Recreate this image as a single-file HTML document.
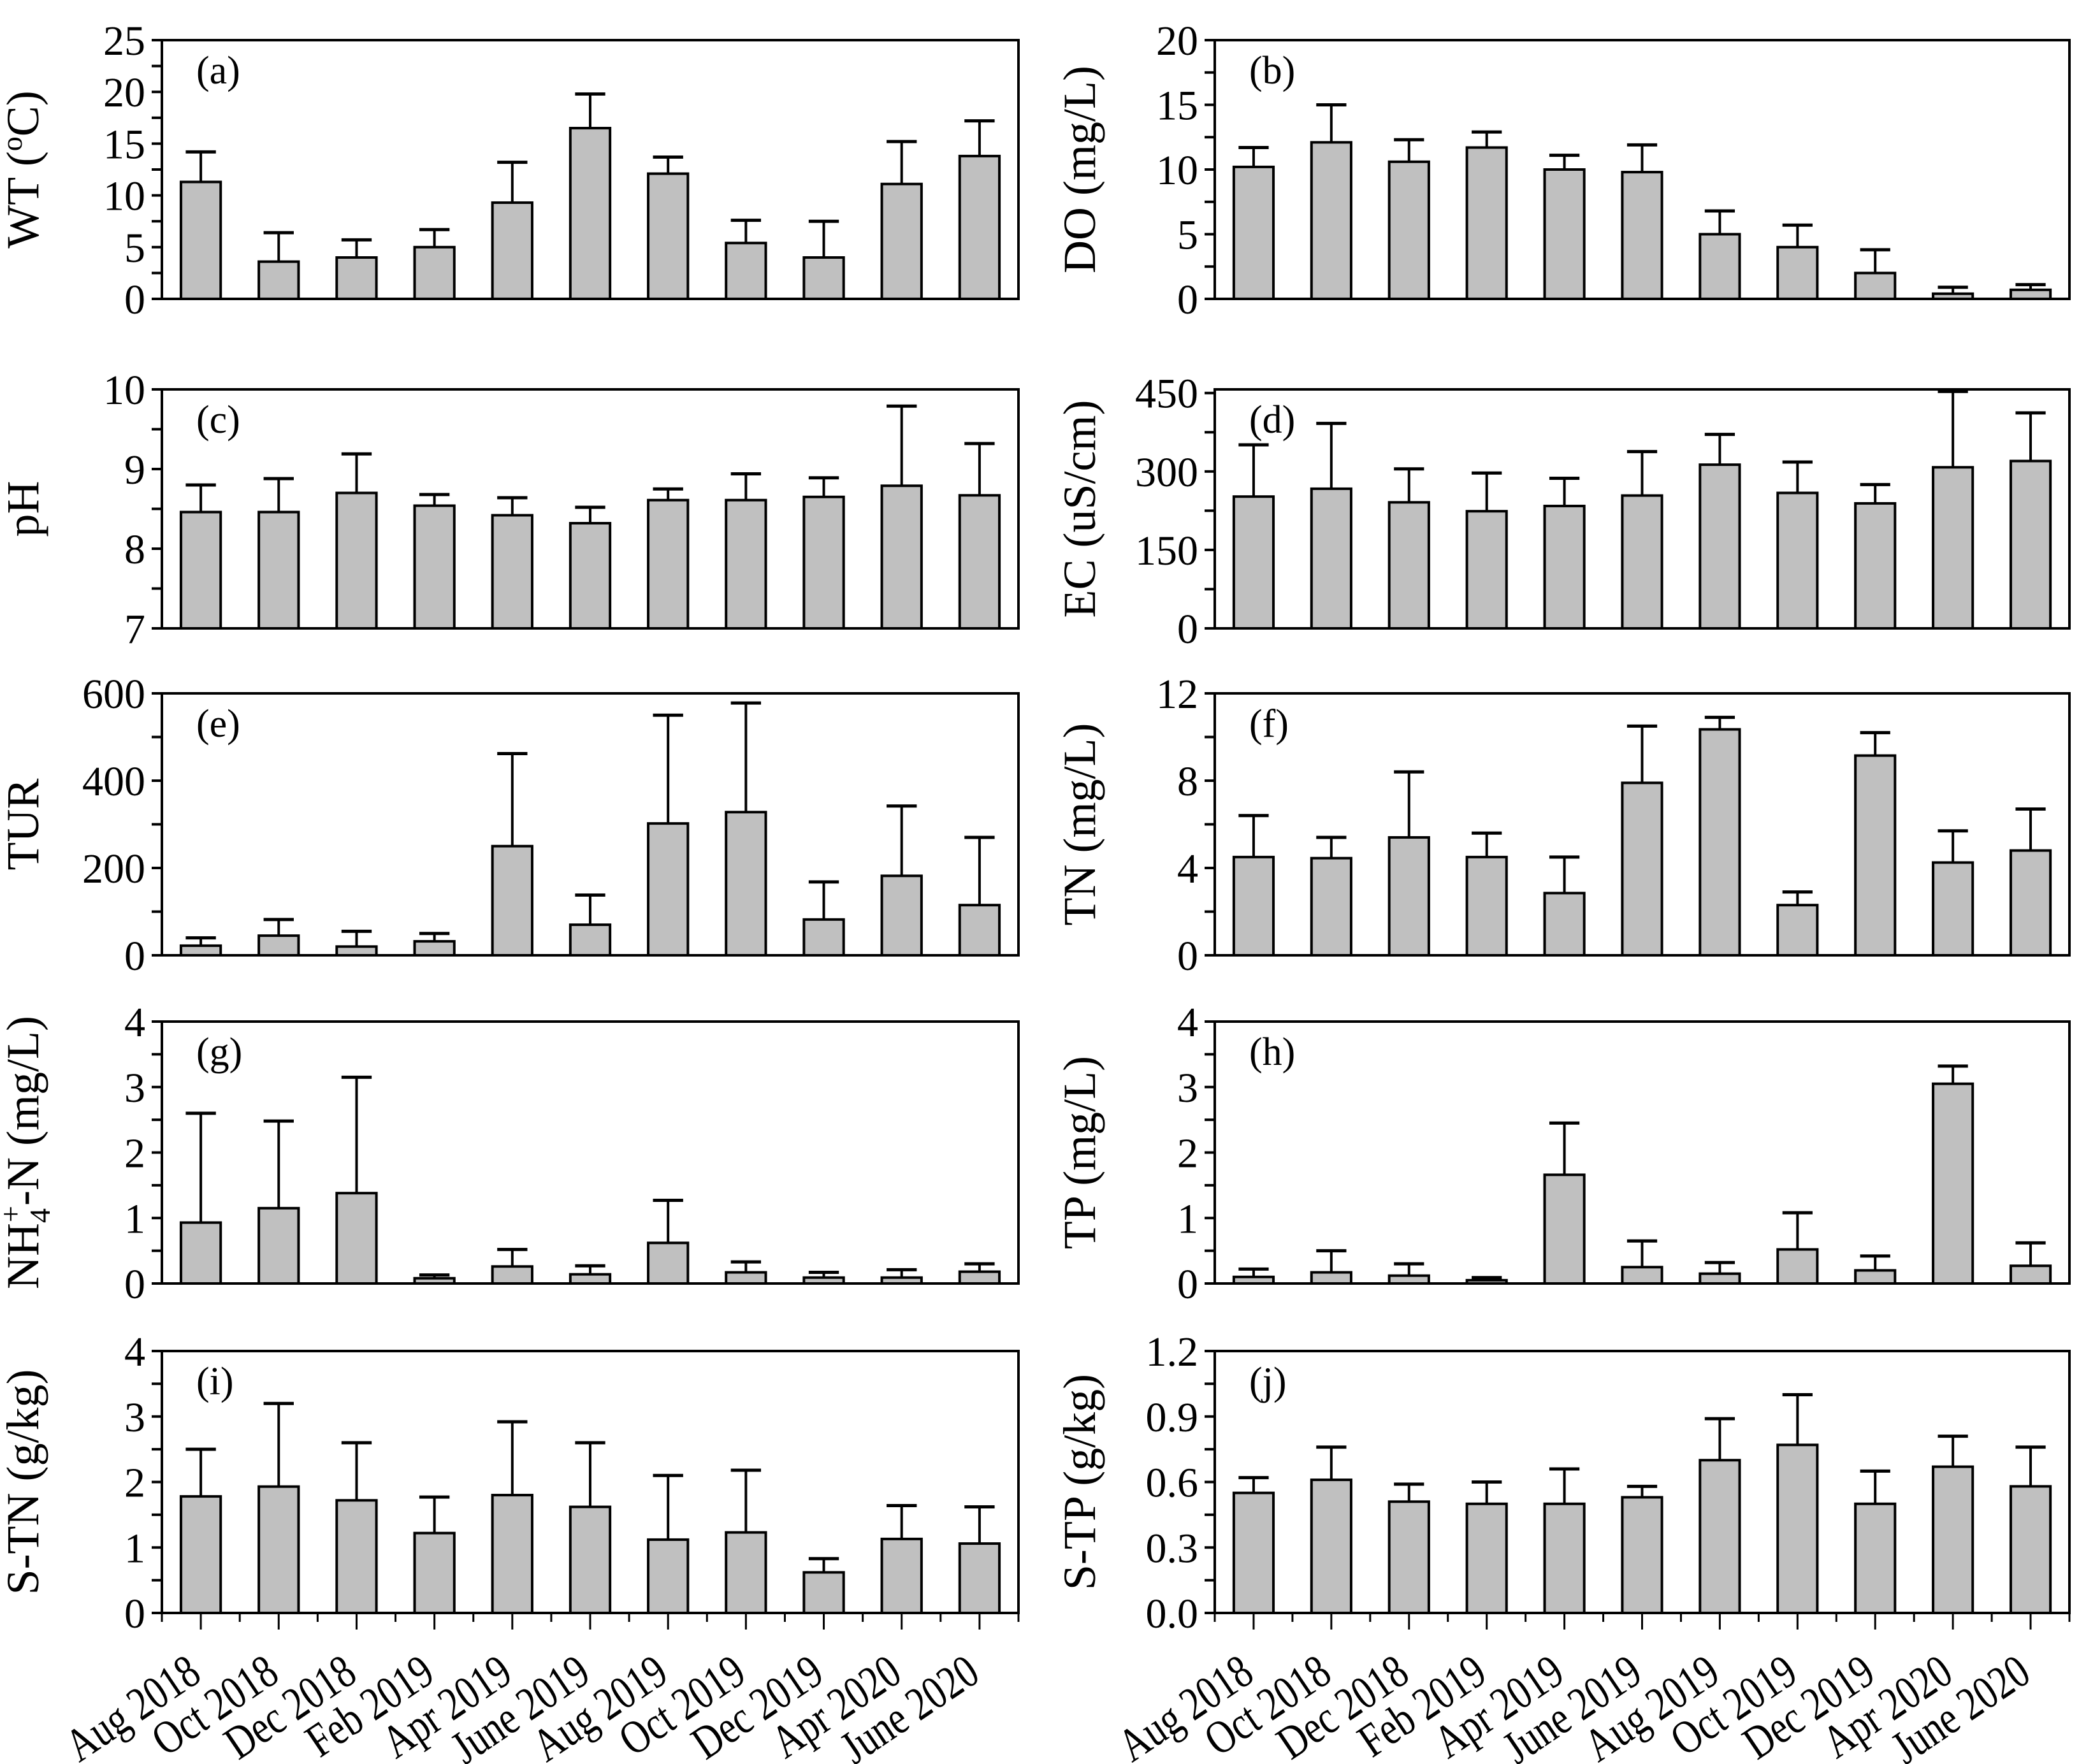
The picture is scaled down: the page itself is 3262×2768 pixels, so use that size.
<!DOCTYPE html>
<html><head><meta charset="utf-8"><style>
html,body{margin:0;padding:0;background:#fff}
svg{display:block}
text{font-family:"Liberation Serif",serif;fill:#000}
</style></head><body>
<svg id="chart" width="3262" height="2768" viewBox="0 0 3262 2768" xmlns="http://www.w3.org/2000/svg"></svg>
<script>
const categories = ["Aug 2018","Oct 2018","Dec 2018","Feb 2019","Apr 2019","June 2019","Aug 2019","Oct 2019","Dec 2019","Apr 2020","June 2020"];
const wtMean = [11.3,3.6,4.0,5.0,9.3,16.5,12.1,5.4,4.0,11.1,13.8];
const wtUpper = [14.2,6.4,5.7,6.7,13.2,19.8,13.7,7.6,7.5,15.2,17.2];
const doMean = [10.2,12.1,10.6,11.7,10.0,9.8,5.0,4.0,2.0,0.4,0.7];
const doUpper = [11.7,15.0,12.3,12.9,11.1,11.9,6.8,5.7,3.8,0.9,1.1];
const phMean = [8.46,8.46,8.7,8.54,8.42,8.32,8.61,8.61,8.65,8.79,8.67];
const phUpper = [8.8,8.88,9.19,8.68,8.64,8.52,8.75,8.94,8.89,9.79,9.32];
const ecMean = [252,267,241,224,234,254,313,259,239,308,320];
const ecUpper = [351,392,305,297,287,338,371,318,275,453,412];
const turMean = [22,45,20,32,250,70,302,328,82,182,115];
const turUpper = [40,82,55,50,462,138,550,578,168,342,270];
const tnMean = [4.5,4.45,5.4,4.5,2.85,7.9,10.35,2.3,9.15,4.25,4.8];
const tnUpper = [6.4,5.4,8.4,5.6,4.5,10.5,10.9,2.9,10.2,5.7,6.7];
const nhMean = [0.93,1.15,1.38,0.08,0.26,0.14,0.62,0.17,0.09,0.09,0.18];
const nhUpper = [2.6,2.48,3.15,0.13,0.52,0.27,1.27,0.33,0.17,0.21,0.3];
const tpMean = [0.1,0.17,0.12,0.05,1.66,0.25,0.15,0.52,0.2,3.05,0.27];
const tpUpper = [0.22,0.5,0.3,0.09,2.45,0.65,0.32,1.08,0.42,3.32,0.62];
const stnMean = [1.78,1.93,1.72,1.22,1.8,1.62,1.12,1.23,0.62,1.13,1.06];
const stnUpper = [2.5,3.2,2.6,1.77,2.92,2.6,2.1,2.18,0.83,1.64,1.62];
const stpMean = [0.55,0.61,0.51,0.5,0.5,0.53,0.7,0.77,0.5,0.67,0.58];
const stpUpper = [0.62,0.76,0.59,0.6,0.66,0.58,0.89,1.0,0.65,0.81,0.76];
const wtTicks = ["0","5","10","15","20","25"];
const doTicks = ["0","5","10","15","20"];
const phTicks = ["7","8","9","10"];
const ecTicks = ["0","150","300","450"];
const turTicks = ["0","200","400","600"];
const tnTicks = ["0","4","8","12"];
const nhTicks = ["0","1","2","3","4"];
const tpTicks = ["0","1","2","3","4"];
const stnTicks = ["0","1","2","3","4"];
const stpTicks = ["0.0","0.3","0.6","0.9","1.2"];

const NS="http://www.w3.org/2000/svg";
const svg=document.getElementById('chart');
function mk(tag,attrs,parent){const e=document.createElementNS(NS,tag);for(const k in attrs)e.setAttribute(k,attrs[k]);(parent||svg).appendChild(e);return e;}

const LX=[254,1598], RX=[1906,3247];
const rows=[[63,469],[611,986],[1088,1499],[1603,2014],[2120,2531]];
const panels=[
 {id:'a',col:LX,row:0,mean:wtMean,up:wtUpper,ticks:wtTicks,min:0,max:25,minor:2.5,title:'wt'},
 {id:'b',col:RX,row:0,mean:doMean,up:doUpper,ticks:doTicks,min:0,max:20,minor:2.5,title:'DO (mg/L)'},
 {id:'c',col:LX,row:1,mean:phMean,up:phUpper,ticks:phTicks,min:7,max:10,minor:0.5,title:'pH'},
 {id:'d',col:RX,row:1,mean:ecMean,up:ecUpper,ticks:ecTicks,min:0,max:457,minor:75,title:'EC (uS/cm)'},
 {id:'e',col:LX,row:2,mean:turMean,up:turUpper,ticks:turTicks,min:0,max:600,minor:100,title:'TUR'},
 {id:'f',col:RX,row:2,mean:tnMean,up:tnUpper,ticks:tnTicks,min:0,max:12,minor:2,title:'TN (mg/L)'},
 {id:'g',col:LX,row:3,mean:nhMean,up:nhUpper,ticks:nhTicks,min:0,max:4,minor:0.5,title:'nh'},
 {id:'h',col:RX,row:3,mean:tpMean,up:tpUpper,ticks:tpTicks,min:0,max:4,minor:0.5,title:'TP (mg/L)'},
 {id:'i',col:LX,row:4,mean:stnMean,up:stnUpper,ticks:stnTicks,min:0,max:4,minor:0.5,title:'S-TN (g/kg)'},
 {id:'j',col:RX,row:4,mean:stpMean,up:stpUpper,ticks:stpTicks,min:0,max:1.2,minor:0.15,title:'S-TP (g/kg)'}
];

panels.forEach(p=>{
  const [x0,x1]=p.col,[y0,y1]=rows[p.row];
  const g=mk('g',{});
  
  
  const ys=v=>y1-(v-p.min)/(p.max-p.min)*(y1-y0);
  const slot=(x1-x0)/categories.length;
  const xc=i=>x0+(i+0.5)*slot;
  for(let v=p.min;v<=p.max+1e-9;v+=p.minor){
    const y=ys(v);
    const t=mk('line',{x1:x0-16,x2:x0,y1:y,y2:y,stroke:'#000','stroke-width':4},g);
    
    
  }
  p.ticks.forEach(s=>{
    const v=parseFloat(s);
    const t=mk('text',{x:x0-26,y:ys(v)+23,'text-anchor':'end','font-size':66},g);
    t.textContent=s;
    
    
  });
  p.mean.forEach((m,i)=>{
    const bw=slot*0.51, cx=xc(i);
    const e=mk('line',{x1:cx,x2:cx,y1:ys(p.up[i]),y2:ys(m),stroke:'#000','stroke-width':4},g);
    
    
    const c=mk('line',{x1:cx-bw*0.38,x2:cx+bw*0.38,y1:ys(p.up[i]),y2:ys(p.up[i]),stroke:'#000','stroke-width':5},g);
    
    
    const r=mk('rect',{x:cx-bw/2,y:ys(m),width:bw,height:y1-ys(m),fill:'#c0c0c0',stroke:'#000','stroke-width':4},g);
    
    
  });
  const f=mk('rect',{x:x0,y:y0,width:x1-x0,height:y1-y0,fill:'none',stroke:'#000','stroke-width':4},g);
  
  
  const pl=mk('text',{x:x0+54,y:y0+68,'font-size':62},g);
  pl.textContent='('+p.id+')';
  
  
  const tx=p.col===LX?60:1718, ty=(y0+y1)/2;
  const t=mk('text',{x:tx,y:ty,'font-size':72,'text-anchor':'middle',transform:`rotate(-90 ${tx} ${ty})`},g);
  
  
  if(p.title==='wt'){
    t.innerHTML='WT (<tspan dy="-26" font-size="46">o</tspan><tspan dy="26">C)</tspan>';
  } else if(p.title==='nh'){
    t.innerHTML='NH<tspan dy="18" font-size="46">4</tspan><tspan dy="-46" dx="-22" font-size="46">+</tspan><tspan dy="28">-N (mg/L)</tspan>';
  } else t.textContent=p.title;
  if(p.row===4){
    for(let k=0;k<=categories.length;k++){
      const x=x0+k*slot;
      const m=mk('line',{x1:x,x2:x,y1:y1,y2:y1+14,stroke:'#000','stroke-width':3},g);
      
      
    }
    categories.forEach((c,i)=>{
      const x=xc(i);
      const m=mk('line',{x1:x,x2:x,y1:y1,y2:y1+26,stroke:'#000','stroke-width':3},g);
      
      
      const ax=x+4, ay=y1+104;
      const l=mk('text',{x:0,y:0,'font-size':74,'text-anchor':'end',transform:`translate(${ax} ${ay}) rotate(-34) scale(0.8 1)`},g);
      l.textContent=c;
      
      
    });
  }
});
</script>
</body></html>
